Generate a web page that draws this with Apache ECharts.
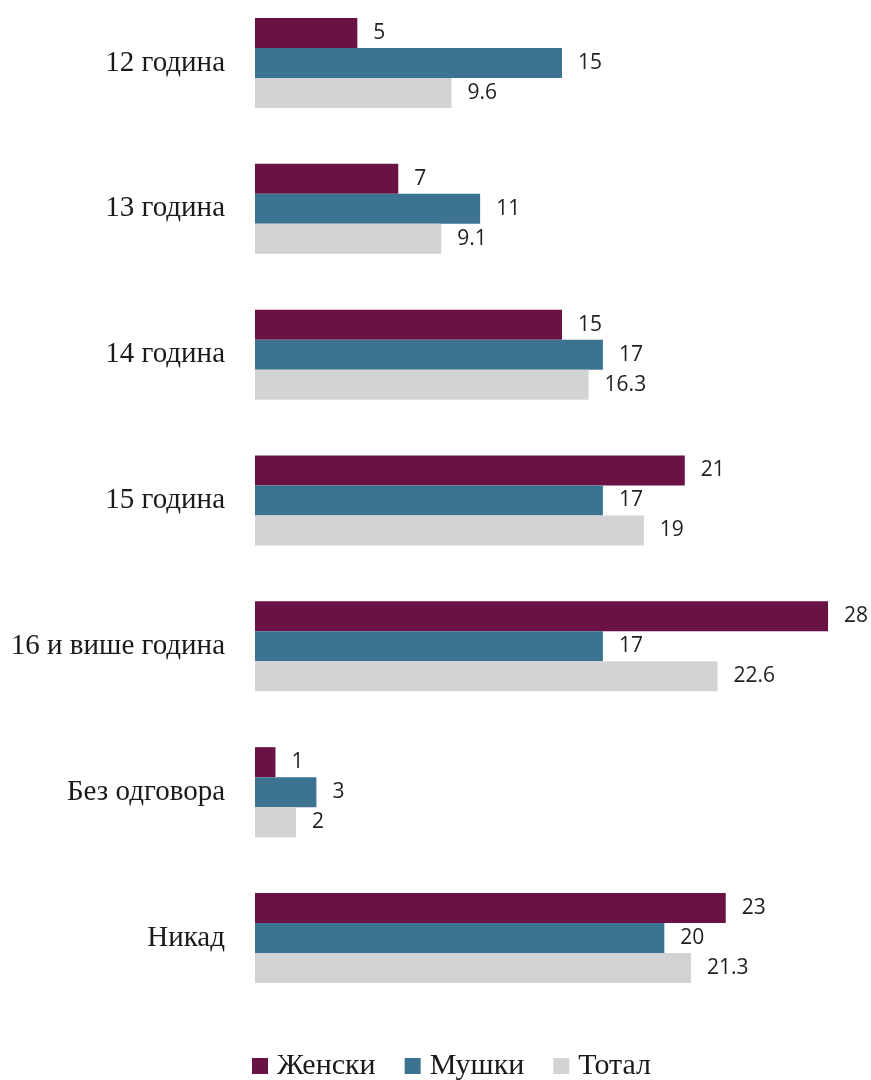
<!DOCTYPE html>
<html>
<head>
<meta charset="utf-8">
<style>
  html, body { margin: 0; padding: 0; background: #ffffff; }
  #chart { width: 871px; height: 1080px; }
</style>
<script src="https://cdn.jsdelivr.net/npm/echarts@6/dist/echarts.min.js"></script>
</head>
<body>
<div id="chart"></div>
<script>
// Age categories (top to bottom)
const categories = ['12 година', '13 година', '14 година', '15 година', '16 и више година', 'Без одговора', 'Никад'];

// Shares per group
const femaleValues = [5, 7, 15, 21, 28, 1, 23];
const maleValues = [15, 11, 17, 17, 17, 3, 20];
const totalValues = [9.6, 9.1, 16.3, 19, 22.6, 2, 21.3];

const seriesNames = ['Женски', 'Мушки', 'Тотал'];
const seriesColors = ['#6B1245', '#3B7390', '#D2D3D5'];

const serifFont = '"Liberation Serif", "DejaVu Serif", serif';

const chart = echarts.init(document.getElementById('chart'), null, { renderer: 'canvas' });

const valueLabel = {
  show: true,
  position: 'right',
  distance: 16,
  fontFamily: '"Open Sans", "Noto Sans", sans-serif',
  fontSize: 21,
  color: '#1f1f1f'
};

function makeSeries(name, data, color) {
  return {
    name: name,
    type: 'bar',
    data: data,
    barWidth: 30,
    barGap: '0%',
    itemStyle: { color: color },
    label: valueLabel,
    emphasis: { disabled: true },
    animation: false
  };
}

chart.setOption({
  animation: false,
  // category centres sit on the grid edges (boundaryGap off)
  grid: { left: 255, top: 63, width: 614, height: 875, containLabel: false },
  xAxis: {
    type: 'value',
    min: 0,
    max: 30,
    show: false
  },
  yAxis: {
    type: 'category',
    data: categories,
    inverse: true,
    boundaryGap: false,
    axisLine: { show: false },
    axisTick: { show: false },
    splitLine: { show: false },
    axisLabel: {
      margin: 30,
      fontFamily: serifFont,
      fontSize: 29,
      color: '#1a1a1a'
    }
  },
  legend: {
    left: 252,
    top: 1051,
    padding: 0,
    itemWidth: 16,
    itemHeight: 16,
    itemGap: 29,
    icon: 'rect',
    textStyle: {
      fontFamily: serifFont,
      fontSize: 30,
      color: '#1a1a1a',
      padding: [0, 0, 0, 4]
    },
    data: seriesNames
  },
  series: [
    makeSeries(seriesNames[0], femaleValues, seriesColors[0]),
    makeSeries(seriesNames[1], maleValues, seriesColors[1]),
    makeSeries(seriesNames[2], totalValues, seriesColors[2])
  ]
});
</script>
</body>
</html>
